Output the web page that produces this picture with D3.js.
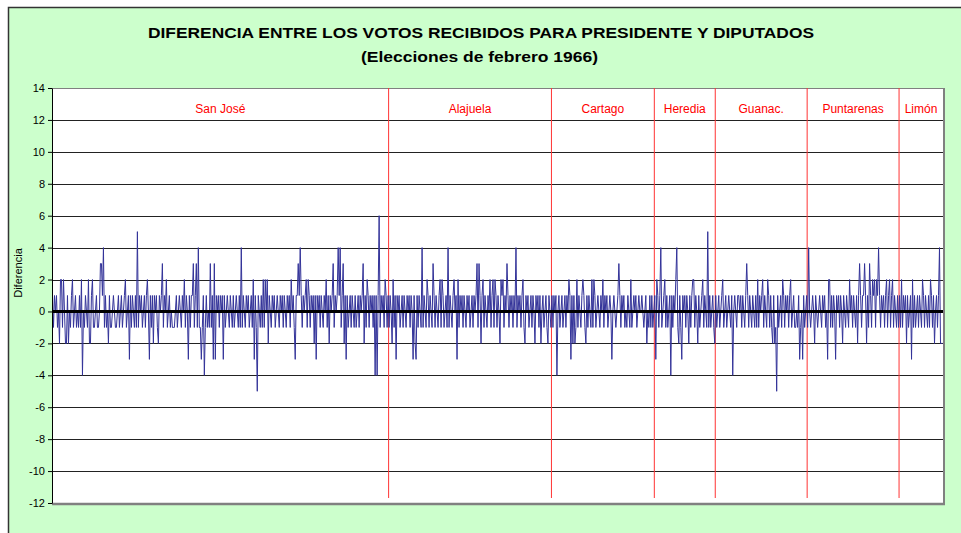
<meta charset="utf-8" />
<style>
	body { margin: 0; background: #fff; }
	text { font-family: 'Liberation Sans', Arial, sans-serif; }
</style>
<svg width="961" height="533"></svg>
<script src="https://cdn.jsdelivr.net/npm/d3@7"></script>
<script>
	// diferencia presidente - diputados, por junta, agrupadas por provincia
	var provincias = ['San José', 'Alajuela', 'Cartago', 'Heredia', 'Guanac.', 'Puntarenas', 'Limón'];

	var sanJose = [
		1,-1,1,0,1,-1,0,-2,2,2,-1,2,0,-2,-2,1,-2,0,-1,1,
		2,-1,0,1,-1,0,-1,1,-1,2,-4,0,-1,1,0,-1,2,-2,-2,1,
		2,-1,-1,0,1,-1,-1,0,3,3,1,4,-1,1,-1,0,-2,1,-1,-1,
		0,1,0,-1,-1,0,1,-1,0,1,-1,0,1,2,-1,0,1,-3,1,-1,
		1,0,-1,1,-1,5,-1,1,0,1,-1,0,1,-1,1,2,0,-3,1,-1,
		1,-2,1,0,1,-1,-2,1,0,1,3,-1,1,0,2,-1,0,1,-1,0,
		-1,-1,-1,0,1,-1,0,1,0,-1,1,0,2,-1,1,0,-3,1,-1,1,
		1,3,-1,1,3,-1,4,-1,-1,-3,-1,1,-4,-1,1,-1,0,-1,3,-1,
		1,-3,3,-3,1,0,1,-1,1,0,1,-3,1,-1,0,1,0,-1,1,0,
		-1,1,-1,0,1,0,-1,1,-1,4,-1,1,0,-1,1,0,1,-1,0,1,
		-1,2,-3,1,-1,-5,1,0,-1,1,-1,2,-1,2,0,2,-2,1,0,-1,
		1,0,1,-1,0,1,0,-1,1,0,1,-1,1,0,-1,1,0,1,-1,2,
		0,1,-1,-3,1,1,3,1,4,1,-1,1,0,1,2,-1,2,1,-1,1,
		0,1,-2,1,-3,1,0,1,-1,1,0,-1,1,0,2,-1,1,-2,1,0,
		1,3,-1,1,0,1,4,1,4,-1,1,3,-2,1,-3,1,-1,0,1,-1,
		1,0,-1,1,-1,0,1,-1,1,0,1,3,-2,1,-1,2,1,-1,1,0,
		1,-1,1,-4,1,-4,1,6,-1,1,0,1,-1,2,1,-1,1
	];
	var alajuela = [
		-1,1,0,-2,2,-1,1,-3,1,0,1,-1,0,1,-1,1,0,-1,1,0,
		1,-1,1,0,-3,1,-2,-3,1,-1,1,0,-1,4,-1,1,0,-1,2,1,
		-1,1,0,-1,3,1,-1,1,0,-1,1,2,-1,2,1,-1,0,1,-1,4,
		-1,1,0,-1,1,2,0,1,-3,2,-1,1,0,1,-1,1,0,-1,1,0,
		1,-1,0,1,-1,1,0,1,3,-1,3,1,-2,1,2,-1,1,0,-1,1,
		0,2,-1,1,2,-1,2,1,-1,1,0,-2,2,1,2,-1,1,0,3,1,
		-1,1,0,1,-1,1,0,4,-1,1,0,1,-1,1,2,-1,-2,1,0,1,
		-1,0,1,-1,1,0,-2,1,0,1,-1,1,-2,0,1,-1,0,1,-1,-2,
		1,0,-1
	];
	var cartago = [
		1,-1,1,0,1,-4,0,1,-1,0,1,-1,0,1,-1,1,0,2,1,-3,
		1,-2,1,-2,-1,2,-1,1,0,-1,1,2,1,-1,-2,1,-1,1,0,-1,
		2,-1,2,1,-1,0,1,0,-1,1,0,2,-1,1,0,1,-1,0,1,0,
		-3,0,1,0,-1,0,1,3,1,-1,1,0,1,-1,0,-1,1,0,-1,2,
		-1,0,1,0,1,-1,0,1,0,0,1,0,-1,0,1,-2,0,-1,1,-1,
		1,-1,0
	];
	var heredia = [
		1,-3,2,1,-1,1,4,-1,0,1,2,-1,1,-1,0,1,-4,1,-1,1,
		0,2,4,-1,-2,1,-1,-3,1,0,1,-1,1,0,-2,1,-1,1,2,2,
		-1,1,0,-2,1,-1,0,1,2,-1,1,0,-1,5,-1,1,-1,0,1,-1,
		-2
	];
	var guanacaste = [
		1,-1,0,1,-1,0,1,2,-1,0,1,-1,0,1,0,-1,1,-4,0,1,
		0,-1,1,1,0,1,-1,1,0,-1,1,3,1,-1,1,0,-1,1,0,-1,
		1,-1,2,-1,1,0,1,2,-1,1,0,-1,2,1,-1,1,-1,-2,1,-2,
		-1,-5,1,-1,0,1,-1,2,1,-1,1,0,1,-1,1,2,-1,0,1,-1,
		-1,0,-1,1,-3,-1,0,-3,1,-1,0,1
	];
	var puntarenas = [
		-1,4,0,-1,0,1,0,-2,1,0,-1,0,1,0,-1,1,0,1,-1,0,
		-3,2,2,-1,1,-1,1,0,-3,1,0,1,-1,1,0,-2,1,0,-1,1,
		0,-1,2,0,1,-1,1,0,-1,1,-2,1,3,1,-1,1,1,3,1,-2,
		1,-1,3,1,-1,2,1,2,-1,2,1,4,1,-1,1,0,1,-1,1,2,
		-1,1,2,-1,1,2,-1,1,0,-1,1,-1
	];
	var limon = [
		1,-1,2,-1,1,0,1,-2,1,-1,0,1,-3,2,-1,1,-1,0,1,-1,
		1,0,-1,2,1,-1,1,0,-1,1,-1,2,1,-1,1,-2,0,1,-1,1,
		4,-2,-2,-2
	];

	var yTicks = [-12, -10, -8, -6, -4, -2, 0, 2, 4, 6, 8, 10, 12, 14];

	var grupos = [sanJose, alajuela, cartago, heredia, guanacaste, puntarenas, limon];
	var serie = [].concat.apply([], grupos);

	// inicio de cada provincia en la serie
	var inicios = [];
	var acc = 0;
	grupos.forEach(g => { inicios.push(acc); acc += g.length; });

	var svg = d3.select('svg');

	var pLeft = 52, pRight = 943, pTop = 88, pBottom = 503;

	svg.append('rect')
		.attr('x', 8.5).attr('y', 7.5)
		.attr('width', 970).attr('height', 540)
		.attr('fill', '#ccffcc')
		.attr('stroke', '#333')
		.attr('stroke-width', 1.5);

	var x = d3.scaleLinear().domain([-0.5, serie.length - 0.5]).range([pLeft, pRight]);
	var y = d3.scaleLinear().domain([-12, 14]).range([pBottom, pTop]);

	svg.append('rect')
		.attr('x', pLeft).attr('y', pTop)
		.attr('width', pRight - pLeft).attr('height', pBottom - pTop)
		.attr('fill', '#fff');

	// grilla
	svg.append('g')
		.selectAll('line')
		.data(yTicks)
		.join('line')
		.attr('x1', pLeft).attr('x2', pRight)
		.attr('y1', d => Math.round(y(d)) + 0.5)
		.attr('y2', d => Math.round(y(d)) + 0.5)
		.attr('stroke', d => (d === 14 ? '#808080' : '#222'))
		.attr('stroke-width', 1);

	// sombra del area
	svg.append('line')
		.attr('x1', pRight + 1).attr('x2', pRight + 1)
		.attr('y1', pTop).attr('y2', pBottom + 2)
		.attr('stroke', '#808080').attr('stroke-width', 2);
	svg.append('line')
		.attr('x1', pLeft).attr('x2', pRight + 2)
		.attr('y1', pBottom + 1).attr('y2', pBottom + 1)
		.attr('stroke', '#808080').attr('stroke-width', 2.5);

	// separadores de provincia
	svg.append('g')
		.selectAll('line')
		.data(inicios.slice(1))
		.join('line')
		.attr('x1', d => x(d - 0.5)).attr('x2', d => x(d - 0.5))
		.attr('y1', pTop).attr('y2', pBottom - 5)
		.attr('stroke', '#ff3333')
		.attr('stroke-width', 1);

	svg.append('g')
		.selectAll('text')
		.data(provincias)
		.join('text')
		.attr('x', (d, i) => (x(inicios[i] - 0.5) + x(inicios[i] + grupos[i].length - 0.5)) / 2)
		.attr('y', 113)
		.attr('text-anchor', 'middle')
		.attr('fill', '#ff0000')
		.style('font-size', '12px')
		.text(d => d);

	var line = d3.line()
		.x((d, i) => x(i))
		.y(d => y(d));

	svg.append('path')
		.datum(serie)
		.attr('d', line)
		.attr('fill', 'none')
		.attr('stroke', '#333399')
		.attr('stroke-width', 1);

	// eje de categorias en 0
	svg.append('line')
		.attr('x1', pLeft).attr('x2', pRight)
		.attr('y1', y(0)).attr('y2', y(0))
		.attr('stroke', '#000')
		.attr('stroke-width', 3);

	var yAxis = svg.append('g')
		.attr('transform', 'translate(' + pLeft + ',0)')
		.call(d3.axisLeft(y).tickValues(yTicks).tickFormat(d => String(d))
			.tickSize(4).tickPadding(3).tickSizeOuter(0));
	yAxis.select('.domain').attr('stroke', '#000');
	yAxis.selectAll('text').style('font-size', '11px').attr('fill', '#000')
		.style('font-family', "'Liberation Sans', Arial, sans-serif");

	svg.append('text')
		.attr('transform', 'translate(22,273) rotate(-90)')
		.attr('text-anchor', 'middle')
		.style('font-size', '11px')
		.text('Diferencia');

	svg.append('text')
		.attr('x', 148).attr('y', 38)
		.attr('textLength', 666)
		.attr('lengthAdjust', 'spacingAndGlyphs')
		.style('font-size', '15px')
		.style('font-weight', 'bold')
		.text('DIFERENCIA ENTRE LOS VOTOS RECIBIDOS PARA PRESIDENTE Y DIPUTADOS');

	svg.append('text')
		.attr('x', 361).attr('y', 62)
		.attr('textLength', 237)
		.attr('lengthAdjust', 'spacingAndGlyphs')
		.style('font-size', '15px')
		.style('font-weight', 'bold')
		.text('(Elecciones de febrero 1966)');
</script>
